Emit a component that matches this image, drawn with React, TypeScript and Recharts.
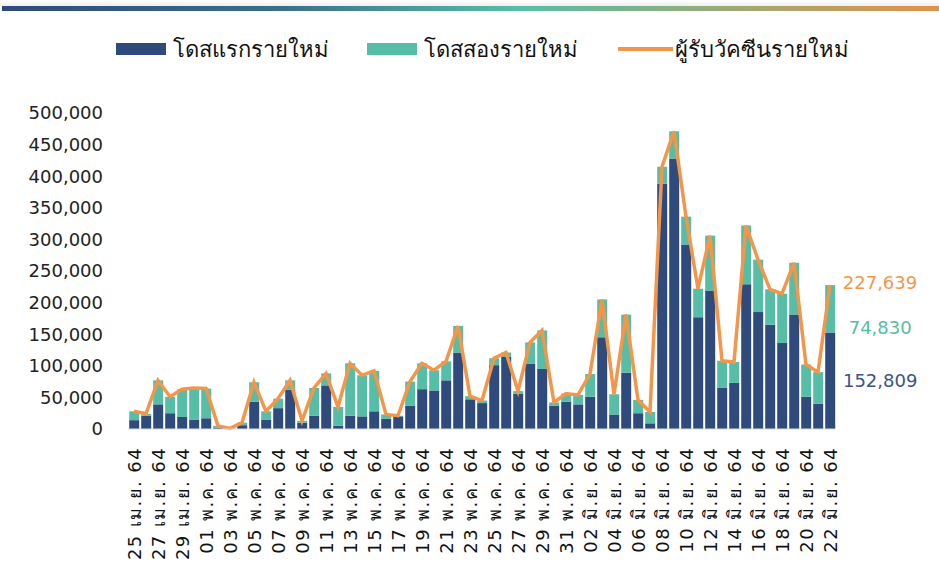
import React from "react";
import { ComposedChart, Bar, Line, XAxis, YAxis } from "recharts";

// daily dates, 25 เม.ย. 64 - 22 มิ.ย. 64
const dates = [
  "25 เม.ย. 64", "26 เม.ย. 64", "27 เม.ย. 64", "28 เม.ย. 64", "29 เม.ย. 64", "30 เม.ย. 64",
  "01 พ.ค. 64", "02 พ.ค. 64", "03 พ.ค. 64", "04 พ.ค. 64", "05 พ.ค. 64", "06 พ.ค. 64",
  "07 พ.ค. 64", "08 พ.ค. 64", "09 พ.ค. 64", "10 พ.ค. 64", "11 พ.ค. 64", "12 พ.ค. 64",
  "13 พ.ค. 64", "14 พ.ค. 64", "15 พ.ค. 64", "16 พ.ค. 64", "17 พ.ค. 64", "18 พ.ค. 64",
  "19 พ.ค. 64", "20 พ.ค. 64", "21 พ.ค. 64", "22 พ.ค. 64", "23 พ.ค. 64", "24 พ.ค. 64",
  "25 พ.ค. 64", "26 พ.ค. 64", "27 พ.ค. 64", "28 พ.ค. 64", "29 พ.ค. 64", "30 พ.ค. 64",
  "31 พ.ค. 64", "01 มิ.ย. 64", "02 มิ.ย. 64", "03 มิ.ย. 64", "04 มิ.ย. 64", "05 มิ.ย. 64",
  "06 มิ.ย. 64", "07 มิ.ย. 64", "08 มิ.ย. 64", "09 มิ.ย. 64", "10 มิ.ย. 64", "11 มิ.ย. 64",
  "12 มิ.ย. 64", "13 มิ.ย. 64", "14 มิ.ย. 64", "15 มิ.ย. 64", "16 มิ.ย. 64", "17 มิ.ย. 64",
  "18 มิ.ย. 64", "19 มิ.ย. 64", "20 มิ.ย. 64", "21 มิ.ย. 64", "22 มิ.ย. 64",
];

const firstDose = [
  14000, 21000, 39000, 25000, 19000, 15000,
  17000, 2000, 500, 6000, 43000, 15000,
  33000, 62000, 10000, 21000, 69000, 5000,
  21000, 20000, 28000, 16000, 20000, 37000,
  63000, 61000, 77000, 121000, 47000, 41000,
  101000, 114000, 56000, 103000, 95000, 37000,
  43000, 39000, 51000, 145000, 23000, 89000,
  25000, 9000, 388000, 428000, 292000, 177000,
  219000, 65000, 73000, 229000, 185000, 165000,
  136000, 181000, 51000, 40000, 152809,
];

const secondDose = [
  14000, 3000, 38000, 26000, 44000, 50000,
  47000, 3000, 500, 4000, 31000, 13000,
  15000, 15000, 3000, 44000, 19000, 30000,
  83000, 65000, 64000, 7000, 1000, 38000,
  41000, 32000, 30000, 42000, 5000, 4000,
  11000, 7000, 4000, 34000, 61000, 5000,
  13000, 15000, 36000, 60000, 32000, 92000,
  21000, 18000, 27000, 43000, 44000, 45000,
  87000, 43000, 33000, 93000, 83000, 56000,
  78000, 82000, 51000, 50000, 74830,
];

const totalVaccinated = [
  28000, 24000, 77000, 51000, 63000, 65000,
  64000, 5000, 1000, 10000, 74000, 28000,
  48000, 77000, 13000, 65000, 88000, 35000,
  104000, 85000, 92000, 23000, 21000, 75000,
  104000, 93000, 107000, 163000, 52000, 45000,
  112000, 121000, 60000, 137000, 156000, 42000,
  56000, 54000, 87000, 205000, 55000, 181000,
  46000, 27000, 415000, 471000, 336000, 222000,
  306000, 108000, 106000, 322000, 268000, 221000,
  214000, 263000, 102000, 90000, 227639,
];

const yTicks = [0, 50000, 100000, 150000, 200000, 250000, 300000, 350000, 400000, 450000, 500000];

const DARK = "#2F4B7C";
const TEAL = "#56BDA6";
const ORANGE = "#F4964A";
const NUM_FONT = "'DejaVu Sans', sans-serif";

const chartData = dates.map((d, i) => ({
  date: d,
  first: firstDose[i],
  second: secondDose[i],
  total: totalVaccinated[i],
}));

const lastIdx = dates.length - 1;
const fmt = (v: number) => v.toLocaleString("en-US");

const DateTick = (props: any) => {
  const { x, y, payload } = props;
  return (
    <text
      x={x}
      y={y}
      transform={`rotate(-90, ${x}, ${y})`}
      textAnchor="end"
      dominantBaseline="central"
      fontSize={18}
      letterSpacing={1.4}
      fontFamily={NUM_FONT}
      fill="#111"
    >
      {payload.value}
    </text>
  );
};

// value label next to the last point only
const lastLabel = (color: string, value: number, dy: (p: any) => number) => (p: any) => {
  if (p.index !== lastIdx) return null;
  const w = p.width || 0;
  return (
    <text
      x={p.x + w / 2 + 50}
      y={dy(p)}
      textAnchor="middle"
      dominantBaseline="central"
      fontSize={18}
      fontFamily={NUM_FONT}
      fill={color}
    >
      {fmt(value)}
    </text>
  );
};

const legendItems = [
  { name: "โดสแรกรายใหม่", color: DARK, kind: "box", left: 116 },
  { name: "โดสสองรายใหม่", color: TEAL, kind: "box", left: 367 },
  { name: "ผู้รับวัคซีนรายใหม่", color: ORANGE, kind: "line", left: 618 },
];

export default function App() {
  return (
    <div
      style={{
        position: "absolute",
        left: 0,
        top: 0,
        width: 939,
        height: 571,
        background: "#fff",
        overflow: "hidden",
      }}
    >
      <div style={{ position: "absolute", left: 0, top: 0, width: 939, height: 6, background: "linear-gradient(#fff, #eee)" }} />
      <div
        style={{
          position: "absolute",
          left: 2,
          top: 6,
          width: 937,
          height: 5,
          background: "linear-gradient(90deg, #2E4A7D 0%, #3B6F8A 30%, #56BEA7 55%, #9DAA74 78%, #E3914A 100%)",
        }}
      />
      {legendItems.map((it) => (
        <div
          key={it.name}
          style={{
            position: "absolute",
            top: 34,
            height: 30,
            left: it.left,
            display: "flex",
            alignItems: "center",
            fontFamily: "'Noto Sans', sans-serif",
            fontSize: 22,
            color: "#111",
            whiteSpace: "nowrap",
          }}
        >
          {it.kind === "box" ? (
            <span style={{ display: "inline-block", width: 50, height: 12, background: it.color, marginRight: 7 }} />
          ) : (
            <span style={{ display: "inline-block", width: 55, height: 4, background: it.color, marginRight: 2 }} />
          )}
          <span>{it.name}</span>
        </div>
      ))}
      <ComposedChart
        width={939}
        height={571}
        data={chartData}
        margin={{ top: 113, right: 103, bottom: 0, left: 0 }}
        barCategoryGap="10%"
        style={{ position: "absolute", left: 0, top: 0 }}
      >
        <XAxis
          dataKey="date"
          interval={1}
          height={142}
          tick={<DateTick />}
          tickLine={false}
          tickSize={6}
          tickMargin={12}
          axisLine={{ stroke: "#d9d9d9" }}
        />
        <YAxis
          type="number"
          domain={[0, 500000]}
          ticks={yTicks}
          width={128}
          tickFormatter={fmt}
          tickLine={false}
          axisLine={false}
          tickSize={6}
          tickMargin={19}
          tick={{ fontSize: 18, fontFamily: NUM_FONT, fill: "#222" }}
        />
        <Bar
          dataKey="first"
          stackId="a"
          fill={DARK}
          isAnimationActive={false}
          label={lastLabel("#3B5488", firstDose[lastIdx], (p) => p.y + p.height / 2)}
        />
        <Bar
          dataKey="second"
          stackId="a"
          fill={TEAL}
          isAnimationActive={false}
          label={lastLabel(TEAL, secondDose[lastIdx], (p) => p.y + p.height - 5)}
        />
        <Line
          type="linear"
          dataKey="total"
          stroke={ORANGE}
          strokeWidth={3.5}
          dot={false}
          isAnimationActive={false}
          label={lastLabel(ORANGE, totalVaccinated[lastIdx], (p) => p.y - 3)}
        />
      </ComposedChart>
    </div>
  );
}
